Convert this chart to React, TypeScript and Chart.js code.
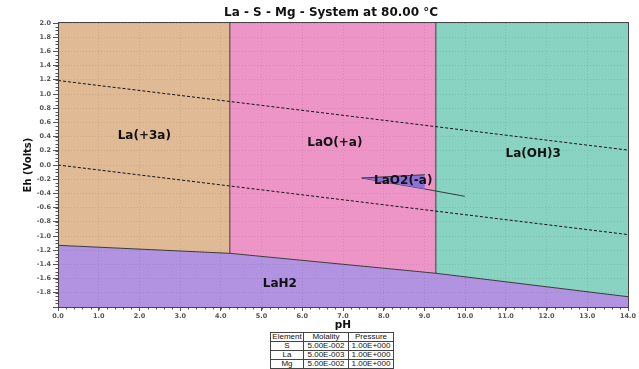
import React, { useEffect, useRef } from "react";
import { Chart, registerables } from "chart.js";

Chart.register(...registerables);

// ---- Diagram data -------------------------------------------------------
const titleText = "La - S - Mg - System at 80.00 °C";
const xTitle = "pH";
const yTitle = "Eh (Volts)";

// pH where the predominance fields change, and Eh of the LaH2 boundary there
const phBreaks = [0, 4.22, 9.28, 14];
const lah2Eh = [-1.131, -1.244, -1.525, -1.855];

// Water stability lines (Eh at pH 0 and pH 14)
const waterPh = [0, 14];
const waterUpperEh = [1.19, 0.21];
const waterLowerEh = [0.0, -0.98];

// Small LaO2(-a) wedge and its tail boundary
const wedgeTopPh = [7.46, 9.01];
const wedgeTopEh = [-0.183, -0.137];
const wedgeBottomPh = [7.46, 9.01];
const wedgeBottomEh = [-0.183, -0.338];
const wedgeTailPh = [9.01, 9.99];
const wedgeTailEh = [-0.338, -0.441];

// Field labels
const regionNames = ["La(+3a)", "LaO(+a)", "La(OH)3", "LaO2(-a)", "LaH2"];
const regionPh = [2.12, 6.8, 11.67, 8.48, 5.45];
const regionEh = [0.41, 0.31, 0.155, -0.23, -1.68];

// Axis ticks
const xTicks = [0, 1, 2, 3, 4, 5, 6, 7, 8, 9, 10, 11, 12, 13, 14];
const yTicks = [-2.0, -1.8, -1.6, -1.4, -1.2, -1.0, -0.8, -0.6, -0.4, -0.2, 0.0, 0.2, 0.4, 0.6, 0.8, 1.0, 1.2, 1.4, 1.6, 1.8, 2.0];

// Conditions table
const tableHeader = ["Element", "Molality", "Pressure"];
const elements = ["S", "La", "Mg"];
const molalities = ["5.00E-002", "5.00E-003", "5.00E-002"];
const pressures = ["1.00E+000", "1.00E+000", "1.00E+000"];

// ---- Styling ------------------------------------------------------------
const COLORS = {
  la3: "#DFBA95",
  lao: "#EE95C8",
  laoh3: "#89D3C3",
  lah2: "#B293E1",
  lao2: "#8A70D8",
  boundary: "#3a3a3a",
  water: "#111111",
};

const FONT = "'DejaVu Sans', Verdana, sans-serif";
const GRID = "rgba(0,0,0,0.085)";

const pts = (xs: number[], ys: number[]) => xs.map((x, i) => ({ x, y: ys[i] }));

const overlayPlugin = {
  id: "overlay",
  afterDraw(chart: any) {
    const { ctx, chartArea, scales } = chart;
    const xs = scales.x;
    const ys = scales.y;
    ctx.save();

    // minor ticks
    ctx.strokeStyle = "#555";
    ctx.lineWidth = 1;
    ctx.beginPath();
    for (let i = 0; i <= 80; i++) {
      const py = Math.round(ys.getPixelForValue(-2 + i * 0.05)) + 0.5;
      ctx.moveTo(chartArea.left - 2.5, py);
      ctx.lineTo(chartArea.left, py);
    }
    for (let i = 0; i <= 70; i++) {
      const px = Math.round(xs.getPixelForValue(i * 0.2)) + 0.5;
      ctx.moveTo(px, chartArea.bottom);
      ctx.lineTo(px, chartArea.bottom + 2.5);
    }
    ctx.stroke();

    // plot frame
    ctx.strokeStyle = "#444";
    ctx.strokeRect(
      Math.round(chartArea.left) + 0.5,
      Math.round(chartArea.top) - 0.5,
      Math.round(chartArea.right - chartArea.left),
      Math.round(chartArea.bottom - chartArea.top) + 1
    );

    // field labels
    ctx.fillStyle = "#111";
    ctx.font = `bold 12px ${FONT}`;
    ctx.textAlign = "center";
    ctx.textBaseline = "middle";
    regionNames.forEach((name, i) => {
      ctx.fillText(name, xs.getPixelForValue(regionPh[i]), ys.getPixelForValue(regionEh[i]));
    });

    // title
    ctx.font = `bold 12px ${FONT}`;
    ctx.fillText(titleText, 331, 13);
    ctx.restore();
  },
};

export default function App() {
  const canvasRef = useRef<HTMLCanvasElement | null>(null);

  useEffect(() => {
    document.body.style.margin = "0";
    const canvas = canvasRef.current;
    if (!canvas) return;

    const fillOnly = { borderWidth: 0, pointRadius: 0, order: 10 };

    const chart = new Chart(canvas, {
      type: "line",
      data: {
        datasets: [
          // boundaries drawn on top
          {
            data: pts(waterPh, waterUpperEh),
            borderColor: COLORS.water,
            borderWidth: 1,
            borderDash: [3, 2],
            pointRadius: 0,
            fill: false,
            order: 1,
          },
          {
            data: pts(waterPh, waterLowerEh),
            borderColor: COLORS.water,
            borderWidth: 1,
            borderDash: [3, 2],
            pointRadius: 0,
            fill: false,
            order: 1,
          },
          {
            data: [{ x: phBreaks[1], y: lah2Eh[1] }, { x: phBreaks[1], y: 2 }],
            borderColor: COLORS.boundary,
            borderWidth: 1,
            pointRadius: 0,
            fill: false,
            order: 2,
          },
          {
            data: [{ x: phBreaks[2], y: lah2Eh[2] }, { x: phBreaks[2], y: 2 }],
            borderColor: COLORS.boundary,
            borderWidth: 1,
            pointRadius: 0,
            fill: false,
            order: 2,
          },
          // LaO2(-a) wedge: top edge filled down to the bottom edge
          {
            data: pts(wedgeTopPh, wedgeTopEh),
            borderColor: COLORS.boundary,
            borderWidth: 1,
            backgroundColor: COLORS.lao2,
            pointRadius: 0,
            fill: "+1",
            order: 3,
          },
          {
            data: pts(wedgeBottomPh, wedgeBottomEh),
            borderColor: COLORS.boundary,
            borderWidth: 1,
            pointRadius: 0,
            fill: false,
            order: 3,
          },
          {
            data: pts(wedgeTailPh, wedgeTailEh),
            borderColor: COLORS.boundary,
            borderWidth: 1,
            pointRadius: 0,
            fill: false,
            order: 3,
          },
          // LaH2 field with its upper boundary
          {
            data: pts(phBreaks, lah2Eh),
            borderColor: COLORS.boundary,
            borderWidth: 1,
            backgroundColor: COLORS.lah2,
            pointRadius: 0,
            fill: "start",
            order: 4,
          },
          // aqueous / solid fields above the LaH2 line
          {
            ...fillOnly,
            data: pts(phBreaks.slice(0, 2), lah2Eh.slice(0, 2)),
            backgroundColor: COLORS.la3,
            fill: "end",
          },
          {
            ...fillOnly,
            data: pts(phBreaks.slice(1, 3), lah2Eh.slice(1, 3)),
            backgroundColor: COLORS.lao,
            fill: "end",
          },
          {
            ...fillOnly,
            data: pts(phBreaks.slice(2, 4), lah2Eh.slice(2, 4)),
            backgroundColor: COLORS.laoh3,
            fill: "end",
          },
        ] as any,
      },
      options: {
        animation: false,
        responsive: false,
        devicePixelRatio: 1,
        layout: { padding: { top: 23, left: 22, right: 11, bottom: 36 } },
        plugins: {
          legend: { display: false },
          tooltip: { enabled: false },
          title: { display: false },
        },
        elements: { line: { tension: 0 } },
        scales: {
          x: {
            type: "linear",
            min: 0,
            max: 14,
            z: 1,
            afterBuildTicks: (scale: any) => {
              scale.ticks = xTicks.map((v) => ({ value: v }));
            },
            afterFit: (scale: any) => {
              scale.height = 26;
            },
            ticks: {
              autoSkip: false,
              maxRotation: 0,
              padding: 1,
              color: "#555",
              font: { family: FONT, size: 6.5, weight: "bold" },
              callback: (v: any) => Number(v).toFixed(1),
            },
            grid: {
              z: 1,
              color: GRID,
              tickColor: "#555",
              tickLength: 4,
              drawOnChartArea: true,
            },
            border: { display: true, color: "#444", dash: [1, 2], z: 1 },
            title: {
              display: true,
              text: xTitle,
              color: "#111",
              padding: { top: 0, bottom: 1 },
              font: { family: FONT, size: 10.5, weight: "bold" },
            },
          },
          y: {
            type: "linear",
            min: -2,
            max: 2,
            z: 1,
            afterBuildTicks: (scale: any) => {
              scale.ticks = yTicks.map((v) => ({ value: v }));
            },
            afterFit: (scale: any) => {
              scale.width = 36;
            },
            ticks: {
              autoSkip: false,
              padding: 2,
              color: "#555",
              font: { family: FONT, size: 6.5, weight: "bold" },
              callback: (v: any) => (Math.abs(Number(v) + 2) < 1e-6 ? "" : Number(v).toFixed(1)),
            },
            grid: {
              z: 1,
              color: GRID,
              tickColor: "#555",
              tickLength: 5,
              drawOnChartArea: true,
            },
            border: { display: true, color: "#444", dash: [1, 2], z: 1 },
            title: {
              display: true,
              text: yTitle,
              color: "#111",
              padding: { top: 0, bottom: 0 },
              font: { family: FONT, size: 10, weight: "bold" },
            },
          },
        },
      } as any,
      plugins: [overlayPlugin],
    });

    return () => chart.destroy();
  }, []);

  const cell: React.CSSProperties = {
    border: "1px solid #444",
    padding: 0,
    height: 8,
    lineHeight: "8px",
    textAlign: "center",
    whiteSpace: "nowrap",
    overflow: "hidden",
  };

  return (
    <div style={{ position: "relative", width: 639, height: 369, background: "#fff" }}>
      <canvas ref={canvasRef} width={639} height={369} style={{ display: "block" }} />
      <table
        style={{
          position: "absolute",
          left: 270,
          top: 332,
          width: 123,
          borderCollapse: "collapse",
          tableLayout: "fixed",
          fontFamily: "'Liberation Sans', Arial, sans-serif",
          fontSize: 8,
          color: "#111",
          background: "#fff",
        }}
      >
        <colgroup>
          <col style={{ width: 33 }} />
          <col style={{ width: 45 }} />
          <col style={{ width: 45 }} />
        </colgroup>
        <tbody>
          <tr>
            {tableHeader.map((h) => (
              <td key={h} style={cell}>{h}</td>
            ))}
          </tr>
          {elements.map((el, i) => (
            <tr key={el}>
              <td style={cell}>{el}</td>
              <td style={cell}>{molalities[i]}</td>
              <td style={cell}>{pressures[i]}</td>
            </tr>
          ))}
        </tbody>
      </table>
    </div>
  );
}
